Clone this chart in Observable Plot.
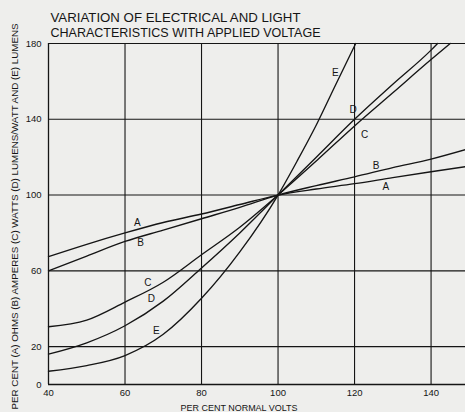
<!DOCTYPE html>
<html><head><meta charset="utf-8">
<script src="https://cdn.jsdelivr.net/npm/d3@7"></script>
<script src="https://cdn.jsdelivr.net/npm/@observablehq/plot@0.6"></script>
<style>
html,body{margin:0;padding:0;background:#eeeeec;}
#chart svg{display:block;}
</style></head><body><div id="chart"></div>
<script>
const titleLine1 = "VARIATION OF ELECTRICAL AND LIGHT";
const titleLine2 = "CHARACTERISTICS WITH APPLIED VOLTAGE";
const xLabel = "PER CENT NORMAL VOLTS";
const yLabel = "PER CENT (A) OHMS (B) AMPERES (C) WATTS (D) LUMENS/WATT AND (E) LUMENS";
const xTicks = [40, 60, 80, 100, 120, 140];
const yTicks = [0, 20, 60, 100, 140, 180];
const xGrid = [60, 80, 100, 120, 140];
const yGrid = [20, 60, 100, 140, 180];

// series readings (per cent normal volts -> per cent)
const voltsAB = [40, 50, 60, 70, 80, 90, 100, 110, 120, 130, 140, 149];
const ohmsA   = [67.5, 74, 80, 85.5, 90, 95, 100, 103.2, 106, 109.2, 112.3, 115];
const ampsB   = [60, 67.8, 75.5, 81.5, 87.5, 93.5, 100, 105, 109.6, 114.5, 119, 124];
const voltsC  = [40, 50, 60, 70, 80, 90, 100, 110, 120, 130, 140, 145];
const wattsC  = [30.5, 34, 43.5, 54, 68.5, 83, 100, 118, 136.5, 154, 171.5, 180];
const voltsD  = [40, 50, 60, 70, 80, 90, 100, 110, 120, 130, 140, 141.7];
const lpwD    = [16, 22, 31, 44, 61.5, 80, 100, 120, 140, 158.5, 176.5, 180];
const voltsE  = [40, 50, 60, 70, 80, 90, 100, 105, 110, 115, 120.3];
const lumensE = [7, 10, 15.3, 26.5, 45.5, 70, 100, 118, 137, 158, 180];

// curve letter labels
const labelText   = ["A", "B", "C", "D", "E", "E", "D", "C", "B", "A"];
const labelVolts  = [63.2, 64.05, 65.95, 66.9, 68.2, 115.0, 119.6, 122.6, 125.65, 128.2];
const labelValues = [85.2, 74.8, 53.7, 45.0, 28.1, 164.4, 145, 132.0, 115.6, 104.2];

const series = [
  {key: "A", volts: voltsAB, values: ohmsA},
  {key: "B", volts: voltsAB, values: ampsB},
  {key: "C", volts: voltsC, values: wattsC},
  {key: "D", volts: voltsD, values: lpwD},
  {key: "E", volts: voltsE, values: lumensE}
];
const rows = series.flatMap(s => s.volts.map((v, i) => ({key: s.key, volts: v, value: s.values[i]})));
const labels = labelText.map((t, i) => ({t, volts: labelVolts[i], value: labelValues[i]}));

const ink = "#151515";
const chart = Plot.plot({
  width: 465,
  height: 412,
  marginLeft: 48,
  marginRight: 0,
  marginTop: 43,
  marginBottom: 28,
  style: {background: "transparent", fontFamily: "'Liberation Sans', Arial, sans-serif", fontSize: "9.5px", color: ink},
  x: {domain: [40, 149], ticks: xTicks, tickSize: 0, tickPadding: 5, label: null},
  y: {domain: [0, 180], ticks: yTicks, tickSize: 0, tickPadding: 7, label: null},
  marks: [
    Plot.ruleX(xGrid, {stroke: ink, strokeWidth: 1.1}),
    Plot.ruleY(yGrid, {stroke: ink, strokeWidth: 1.1}),
    Plot.ruleX([40], {stroke: ink, strokeWidth: 1.3}),
    Plot.ruleY([0], {stroke: ink, strokeWidth: 1.3}),
    Plot.line(rows, {x: "volts", y: "value", z: "key", curve: "monotone-x", stroke: ink, strokeWidth: 1.35}),
    Plot.text(labels, {x: "volts", y: "value", text: "t", fontSize: 10, fill: ink}),
    Plot.text([titleLine1], {frameAnchor: "top-left", textAnchor: "start", lineAnchor: "top", dx: 2, dy: -30.7, fontSize: 13, fill: ink}),
    Plot.text([titleLine2], {frameAnchor: "top-left", textAnchor: "start", lineAnchor: "top", dx: 2, dy: -16.2, fontSize: 13, fill: ink}),
    Plot.text([xLabel], {frameAnchor: "bottom", textAnchor: "middle", lineAnchor: "bottom", dx: -18, dy: 26, fontSize: 9, fill: ink}),
    Plot.text([yLabel], {frameAnchor: "left", textAnchor: "middle", lineAnchor: "middle", rotate: -90, dx: -34, dy: 2.5, fontSize: 9.7, fill: ink})
  ]
});
document.getElementById("chart").appendChild(chart);
// stretch text lines to the widths they occupy in the reference
const textWidths = new Map([[titleLine1, 250], [titleLine2, 270], [yLabel, 386], [xLabel, 117]]);
d3.select(chart).selectAll("text").each(function () {
  const w = textWidths.get(this.textContent);
  if (w) { this.setAttribute("textLength", w); this.setAttribute("lengthAdjust", "spacingAndGlyphs"); }
});
</script></body></html>
